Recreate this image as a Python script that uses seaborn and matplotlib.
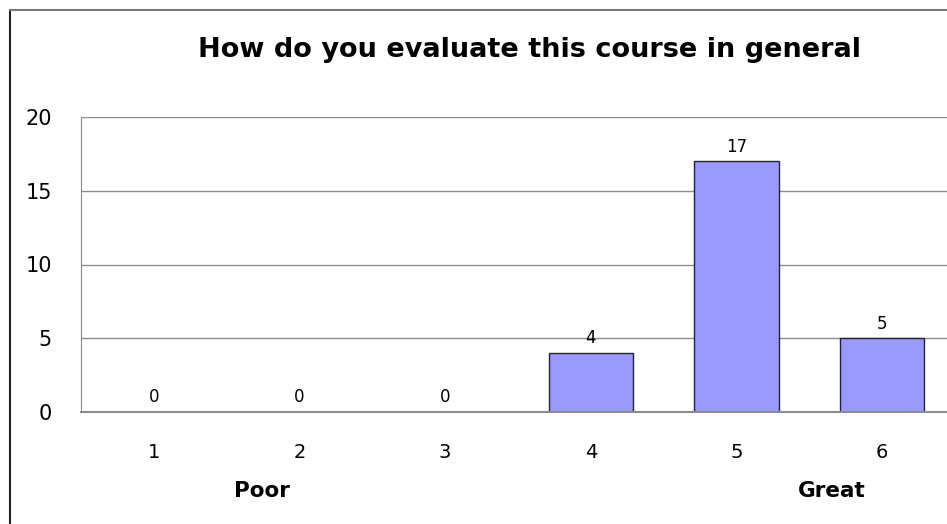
import matplotlib
matplotlib.use("Agg")
import matplotlib.pyplot as plt
import seaborn as sns
import pandas as pd
from matplotlib.lines import Line2D

# Data
ratings = ["1", "2", "3", "4", "5", "6"]
counts = [0, 0, 0, 4, 17, 5]
yticks = [0, 5, 10, 15, 20]
title = "How do you evaluate this course in general"

df = pd.DataFrame({"rating": ratings, "count": counts})

sns.set_style("white")
plt.rcParams['font.family'] = ['DejaVu Sans']
plt.rcParams['text.color'] = 'black'
plt.rcParams['xtick.color'] = 'black'
plt.rcParams['ytick.color'] = 'black'

fig = plt.figure(figsize=(9.47, 5.24), dpi=100)
ax = fig.add_axes([81 / 947, 1 - 412 / 524, (955 - 81) / 947, (412 - 117) / 524])

sns.barplot(data=df, x="rating", y="count", color="#9999FF", edgecolor="#22223a",
            linewidth=1.0, width=0.58, saturation=1, ax=ax)

ax.set_ylim(0, 20)
ax.set_xlim(-0.5, 5.5)
ax.set_yticks(yticks)
ax.yaxis.grid(True, color="#8c8c8c", linewidth=1.0)
ax.set_axisbelow(True)
for s in ["top", "right"]:
    ax.spines[s].set_visible(False)
ax.spines["left"].set_color("#8c8c8c")
ax.spines["bottom"].set_color("#8c8c8c")
ax.spines["bottom"].set_linewidth(1.5)
ax.tick_params(axis="y", length=0, pad=21, labelsize=15, labelcolor="black")
ax.tick_params(axis="x", length=0, pad=22, labelsize=14, labelcolor="black")
ax.set_xlabel("")
ax.set_ylabel("")

for cont in ax.containers:
    ax.bar_label(cont, labels=[str(v) for v in counts], padding=4, fontsize=12,
                 color="black")

fig.text(530 / 947, 1 - 50 / 524, title, ha="center", va="center",
         fontsize=19.5, fontweight="bold", color="black")
fig.text(262 / 947, 1 - 491 / 524, "Poor", ha="center", va="center",
         fontsize=15.5, fontweight="bold", color="black")
fig.text(832 / 947, 1 - 491 / 524, "Great", ha="center", va="center",
         fontsize=15.5, fontweight="bold", color="black")

# outer border (left and top only visible)
fig.add_artist(Line2D([10 / 947, 10 / 947], [0, 1 - 10 / 524], transform=fig.transFigure,
                      color="#222222", linewidth=1.5))
fig.add_artist(Line2D([10 / 947, 1], [1 - 10 / 524, 1 - 10 / 524], transform=fig.transFigure,
                      color="#777777", linewidth=1.5))

fig.savefig("out.png", dpi=100)
